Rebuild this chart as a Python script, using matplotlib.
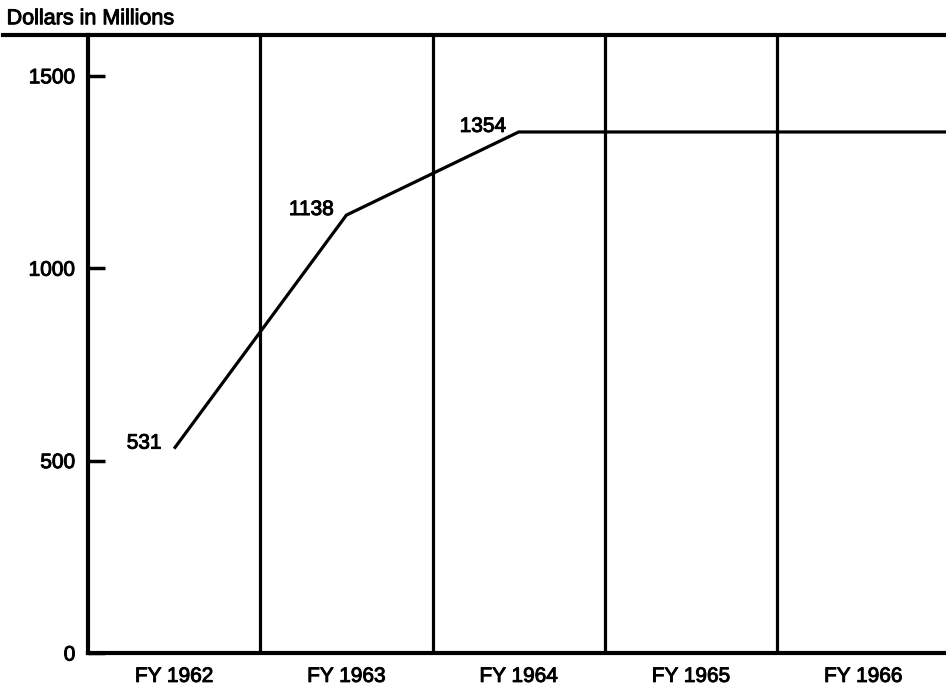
import matplotlib
matplotlib.use("Agg")
import matplotlib.pyplot as plt
import matplotlib.patheffects as pe
from matplotlib.lines import Line2D

plt.rcParams["font.family"] = ["Liberation Sans", "DejaVu Sans"]

years = ["FY 1962", "FY 1963", "FY 1964", "FY 1965", "FY 1966"]
outlays = [531, 1138, 1354, 1354, 1354]
labeled = [531, 1138, 1354]
y_ticks = [0, 500, 1000, 1500]

# slightly heavier strokes on all lettering
heavy = [pe.withStroke(linewidth=0.7, foreground="black")]

fig = plt.figure(figsize=(9.46, 6.93), dpi=100)
ax = fig.add_axes([0.093, 0.0577, 0.907, 0.8918])

x = list(range(len(years)))
x_right = len(years) - 0.52

ax.set_xlim(-0.5, x_right)
ax.set_ylim(0, 1606)

# column dividers between fiscal years
for xb in x[:-1]:
    ax.axvline(xb + 0.5, color="black", linewidth=2.3)

# spending line, held flat out to the edge of the chart
ax.plot(x + [x_right], outlays + [outlays[-1]], color="black", linewidth=2.3,
        solid_capstyle="butt", clip_on=False)

for xi, val in zip(x, labeled):
    ax.annotate(f"{val}", (xi, val), xytext=(-9, 4), textcoords="offset points",
                ha="right", va="center", fontsize=15, path_effects=heavy)

for side in ("top", "right"):
    ax.spines[side].set_visible(False)
for side in ("left", "bottom"):
    ax.spines[side].set_linewidth(3)

ax.set_yticks(y_ticks)
ax.set_yticklabels([str(v) for v in y_ticks])
ax.set_xticks(x)
ax.set_xticklabels(years)
ax.tick_params(axis="y", direction="in", length=12, width=2.5, pad=9, labelsize=15)
ax.tick_params(axis="x", length=0, pad=10, labelsize=15)
for lbl in ax.get_xticklabels() + ax.get_yticklabels():
    lbl.set_path_effects(heavy)

# heavy rule across the top of the page
fig.add_artist(Line2D([0.003, 1.0], [0.9495, 0.9495], color="black", linewidth=3))

fig.text(0.007, 0.973, "Dollars in Millions", fontsize=15.5, va="center", ha="left",
         path_effects=heavy)

fig.savefig("out.png", dpi=100, facecolor="white")
